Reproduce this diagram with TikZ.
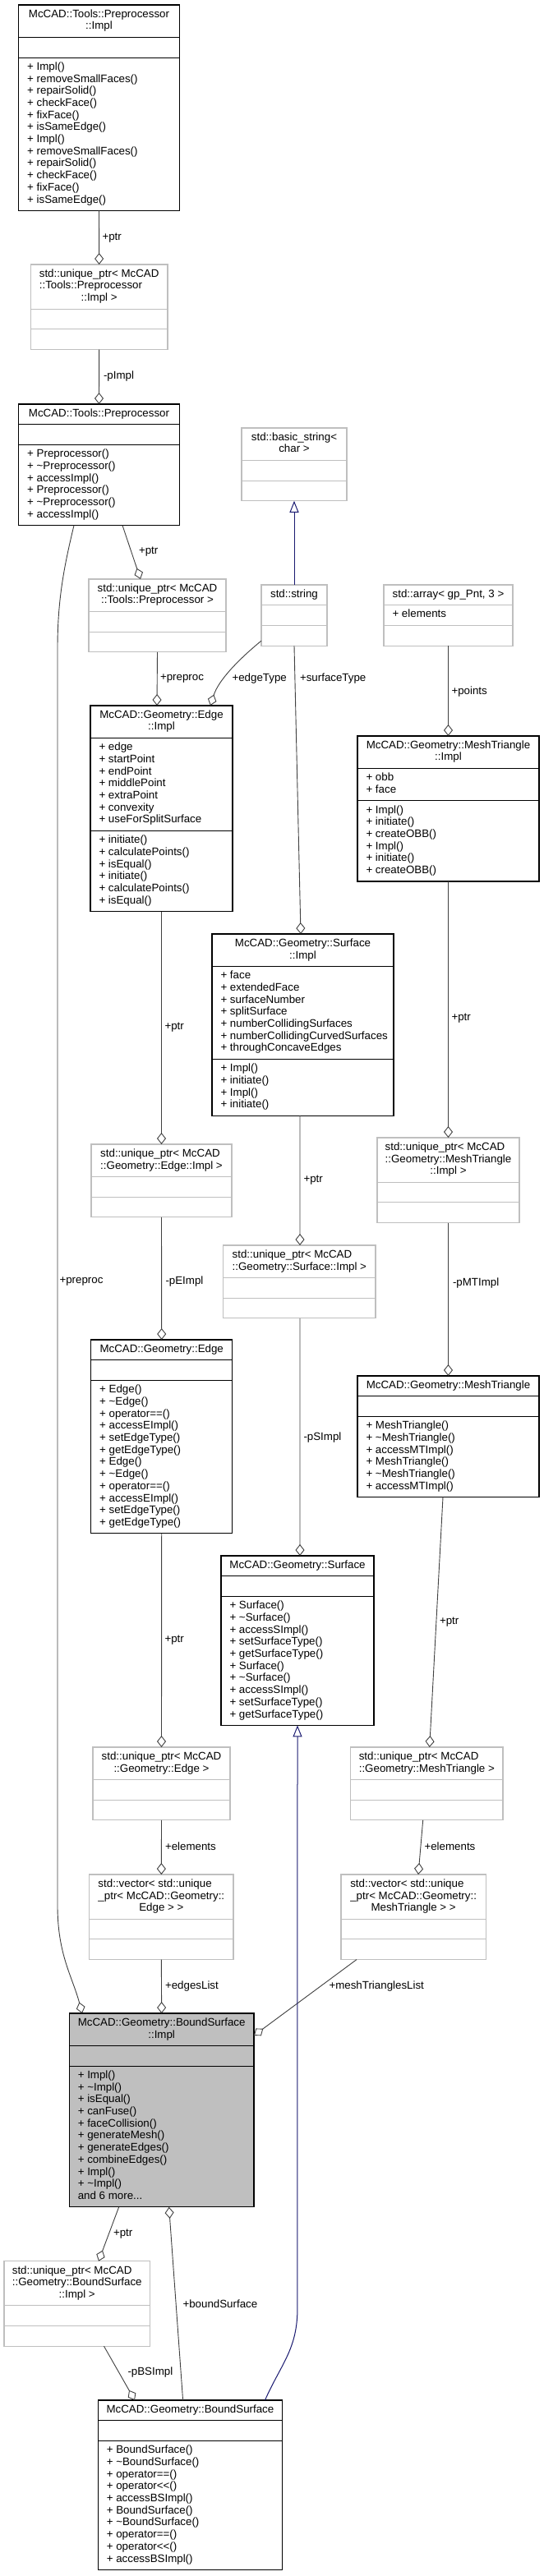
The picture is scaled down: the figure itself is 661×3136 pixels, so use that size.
\documentclass[tikz,border=0pt]{standalone}
\usepackage{fontspec}
\newfontfamily\dfont{Liberation Sans}[Ligatures=TeXOff]
\usetikzlibrary{arrows.meta,calc}
\definecolor{lgray}{HTML}{BFBFBF}
\definecolor{bsfill}{HTML}{BFBFBF}
\definecolor{egray}{HTML}{404040}
\definecolor{midblue}{HTML}{191970}
\newcommand\tabL[1]{\begin{tabular}{@{}l@{}}#1\end{tabular}}
\newcommand\ctrL[1]{\multicolumn{1}{@{}c@{}}{#1}}
\def\lh{14.7}
\newcommand\umlbox[8]{%
  \pgfmathsetmacro\bxT{#5*\lh+10}%
  \pgfmathsetmacro\bxA{max(#6,1)*\lh+10}%
  \pgfmathsetmacro\bxM{max(#7,1)*\lh+10}%
  \pgfmathsetmacro\bxH{\bxT+\bxA+\bxM}%
  \node[#8, minimum width=#4pt, minimum height=\bxH pt, anchor=north west] (#1) at (#2,#3) {};%
  \draw[#8 sep] ($(#1.north west)+(0,\bxT)$) -- ($(#1.north east)+(0,\bxT)$);%
  \draw[#8 sep] ($(#1.north west)+(0,\bxT+\bxA)$) -- ($(#1.north east)+(0,\bxT+\bxA)$);%
  \coordinate (#1-t) at ($(#1.north)+(0,\bxT/2)$);%
  \coordinate (#1-a) at ($(#1.north west)+(10.5,\bxT+\bxA/2)$);%
  \coordinate (#1-m) at ($(#1.north west)+(10.5,\bxT+\bxA+\bxM/2)$);%
}
\begin{document}
\begin{tikzpicture}[x=1pt,y=-1pt,
  dbox/.style={rectangle, draw=black, line width=1.1pt, fill=white, inner sep=0pt, outer sep=0pt},
  dbox sep/.style={draw=black, line width=1.1pt},
  lbox/.style={rectangle, draw=lgray, line width=1.1pt, fill=white, inner sep=0pt, outer sep=0pt},
  lbox sep/.style={draw=lgray, line width=1.1pt},
  gbox/.style={rectangle, draw=black, line width=1.1pt, fill=bsfill, inner sep=0pt, outer sep=0pt},
  gbox sep/.style={draw=black, line width=1.1pt},
  txt/.style={inner sep=0pt, outer sep=0pt, text=black, font=\dfont\fontsize{13.33}{14.7}\selectfont},
  lbl/.style={txt, anchor=west},
  usage/.style={draw=egray, line width=0.9pt, -{Diamond[open, length=14pt, width=11pt, line width=0.9pt]}},
  inh/.style={draw=midblue, line width=1pt, -{Triangle[open, length=14pt, width=11pt, line width=1pt]}}
]
\fill[white] (0,0) rectangle (661,3136);
\useasboundingbox (0,0) rectangle (661,3136);

% ---------------- boxes ----------------
\umlbox{PImpl}{22.7}{6}{195.6}{2}{0}{12}{dbox}
\node[txt] (PImpl-T) at (PImpl-t) {\tabL{McCAD::Tools::Preprocessor\\\ctrL{::Impl}}};
\node[txt,anchor=west] (PImpl-M) at (PImpl-m) {\tabL{+ Impl()\\+ removeSmallFaces()\\+ repairSolid()\\+ checkFace()\\+ fixFace()\\+ isSameEdge()\\+ Impl()\\+ removeSmallFaces()\\+ repairSolid()\\+ checkFace()\\+ fixFace()\\+ isSameEdge()}};

\umlbox{uPImpl}{37.3}{322}{166.7}{3}{0}{0}{lbox}
\node[txt] (uPImpl-T) at (uPImpl-t) {\tabL{std::unique\_ptr< McCAD\\::Tools::Preprocessor\\\ctrL{::Impl >}}};

\umlbox{Prep}{22.7}{492}{195.6}{1}{0}{6}{dbox}
\node[txt] (Prep-T) at (Prep-t) {\tabL{McCAD::Tools::Preprocessor}};
\node[txt,anchor=west] (Prep-M) at (Prep-m) {\tabL{+ Preprocessor()\\+ \textasciitilde Preprocessor()\\+ accessImpl()\\+ Preprocessor()\\+ \textasciitilde Preprocessor()\\+ accessImpl()}};

\umlbox{bstr}{294}{521}{128}{2}{0}{0}{lbox}
\node[txt] (bstr-T) at (bstr-t) {\tabL{std::basic\_string<\\\ctrL{char >}}};

\umlbox{uPrep}{108}{705}{167}{2}{0}{0}{lbox}
\node[txt] (uPrep-T) at (uPrep-t) {\tabL{std::unique\_ptr< McCAD\\\ctrL{::Tools::Preprocessor >}}};

\umlbox{str}{318}{712}{80}{1}{0}{0}{lbox}
\node[txt] (str-T) at (str-t) {\tabL{std::string}};

\umlbox{arr}{467}{712}{157}{1}{1}{0}{lbox}
\node[txt] (arr-T) at (arr-t) {\tabL{std::array< gp\_Pnt, 3 >}};
\node[txt,anchor=west] (arr-A) at (arr-a) {\tabL{+ elements}};

\umlbox{EImpl}{110}{859}{173}{2}{7}{6}{dbox}
\node[txt] (EImpl-T) at (EImpl-t) {\tabL{McCAD::Geometry::Edge\\\ctrL{::Impl}}};
\node[txt,anchor=west] (EImpl-A) at (EImpl-a) {\tabL{+ edge\\+ startPoint\\+ endPoint\\+ middlePoint\\+ extraPoint\\+ convexity\\+ useForSplitSurface}};
\node[txt,anchor=west] (EImpl-M) at (EImpl-m) {\tabL{+ initiate()\\+ calculatePoints()\\+ isEqual()\\+ initiate()\\+ calculatePoints()\\+ isEqual()}};

\umlbox{MTImpl}{435}{896}{221}{2}{2}{6}{dbox}
\node[txt] (MTImpl-T) at (MTImpl-t) {\tabL{McCAD::Geometry::MeshTriangle\\\ctrL{::Impl}}};
\node[txt,anchor=west] (MTImpl-A) at (MTImpl-a) {\tabL{+ obb\\+ face}};
\node[txt,anchor=west] (MTImpl-M) at (MTImpl-m) {\tabL{+ Impl()\\+ initiate()\\+ createOBB()\\+ Impl()\\+ initiate()\\+ createOBB()}};

\umlbox{SImpl}{258}{1137}{221}{2}{7}{4}{dbox}
\node[txt] (SImpl-T) at (SImpl-t) {\tabL{McCAD::Geometry::Surface\\\ctrL{::Impl}}};
\node[txt,anchor=west] (SImpl-A) at (SImpl-a) {\tabL{+ face\\+ extendedFace\\+ surfaceNumber\\+ splitSurface\\+ numberCollidingSurfaces\\+ numberCollidingCurvedSurfaces\\+ throughConcaveEdges}};
\node[txt,anchor=west] (SImpl-M) at (SImpl-m) {\tabL{+ Impl()\\+ initiate()\\+ Impl()\\+ initiate()}};

\umlbox{uEImpl}{111}{1393}{171}{2}{0}{0}{lbox}
\node[txt] (uEImpl-T) at (uEImpl-t) {\tabL{std::unique\_ptr< McCAD\\\ctrL{::Geometry::Edge::Impl >}}};

\umlbox{uMTImpl}{459}{1385}{173}{3}{0}{0}{lbox}
\node[txt] (uMTImpl-T) at (uMTImpl-t) {\tabL{std::unique\_ptr< McCAD\\::Geometry::MeshTriangle\\\ctrL{::Impl >}}};

\umlbox{uSImpl}{271.7}{1516}{185.3}{2}{0}{0}{lbox}
\node[txt] (uSImpl-T) at (uSImpl-t) {\tabL{std::unique\_ptr< McCAD\\\ctrL{::Geometry::Surface::Impl >}}};

\umlbox{Edge}{110.7}{1631}{172}{1}{0}{12}{dbox}
\node[txt] (Edge-T) at (Edge-t) {\tabL{McCAD::Geometry::Edge}};
\node[txt,anchor=west] (Edge-M) at (Edge-m) {\tabL{+ Edge()\\+ \textasciitilde Edge()\\+ operator==()\\+ accessEImpl()\\+ setEdgeType()\\+ getEdgeType()\\+ Edge()\\+ \textasciitilde Edge()\\+ operator==()\\+ accessEImpl()\\+ setEdgeType()\\+ getEdgeType()}};

\umlbox{MT}{435}{1675}{221}{1}{0}{6}{dbox}
\node[txt] (MT-T) at (MT-t) {\tabL{McCAD::Geometry::MeshTriangle}};
\node[txt,anchor=west] (MT-M) at (MT-m) {\tabL{+ MeshTriangle()\\+ \textasciitilde MeshTriangle()\\+ accessMTImpl()\\+ MeshTriangle()\\+ \textasciitilde MeshTriangle()\\+ accessMTImpl()}};

\umlbox{Surf}{269}{1894}{186}{1}{0}{10}{dbox}
\node[txt] (Surf-T) at (Surf-t) {\tabL{McCAD::Geometry::Surface}};
\node[txt,anchor=west] (Surf-M) at (Surf-m) {\tabL{+ Surface()\\+ \textasciitilde Surface()\\+ accessSImpl()\\+ setSurfaceType()\\+ getSurfaceType()\\+ Surface()\\+ \textasciitilde Surface()\\+ accessSImpl()\\+ setSurfaceType()\\+ getSurfaceType()}};

\umlbox{uEdge}{113}{2127}{167}{2}{0}{0}{lbox}
\node[txt] (uEdge-T) at (uEdge-t) {\tabL{std::unique\_ptr< McCAD\\\ctrL{::Geometry::Edge >}}};

\umlbox{uMT}{426.7}{2127}{185.3}{2}{0}{0}{lbox}
\node[txt] (uMT-T) at (uMT-t) {\tabL{std::unique\_ptr< McCAD\\\ctrL{::Geometry::MeshTriangle >}}};

\umlbox{vEdge}{108.7}{2282}{175.3}{3}{0}{0}{lbox}
\node[txt] (vEdge-T) at (vEdge-t) {\tabL{std::vector< std::unique\\\_ptr< McCAD::Geometry::\\\ctrL{Edge > >}}};

\umlbox{vMT}{415}{2282}{176.3}{3}{0}{0}{lbox}
\node[txt] (vMT-T) at (vMT-t) {\tabL{std::vector< std::unique\\\_ptr< McCAD::Geometry::\\\ctrL{MeshTriangle > >}}};

\umlbox{BSImpl}{84.3}{2451}{224.7}{2}{0}{11}{gbox}
\node[txt] (BSImpl-T) at (BSImpl-t) {\tabL{McCAD::Geometry::BoundSurface\\\ctrL{::Impl}}};
\node[txt,anchor=west] (BSImpl-M) at (BSImpl-m) {\tabL{+ Impl()\\+ \textasciitilde Impl()\\+ isEqual()\\+ canFuse()\\+ faceCollision()\\+ generateMesh()\\+ generateEdges()\\+ combineEdges()\\+ Impl()\\+ \textasciitilde Impl()\\and 6 more...}};

\umlbox{uBS}{5}{2752.7}{177.5}{3}{0}{0}{lbox}
\node[txt] (uBS-T) at (uBS-t) {\tabL{std::unique\_ptr< McCAD\\::Geometry::BoundSurface\\\ctrL{::Impl >}}};

\umlbox{BS}{119.3}{2922}{224.3}{1}{0}{10}{dbox}
\node[txt] (BS-T) at (BS-t) {\tabL{McCAD::Geometry::BoundSurface}};
\node[txt,anchor=west] (BS-M) at (BS-m) {\tabL{+ BoundSurface()\\+ \textasciitilde BoundSurface()\\+ operator==()\\+ operator<<()\\+ accessBSImpl()\\+ BoundSurface()\\+ \textasciitilde BoundSurface()\\+ operator==()\\+ operator<<()\\+ accessBSImpl()}};

% ---------------- connectors ----------------
\draw[usage] (PImpl.south) -- (uPImpl.north);
\draw[usage] (uPImpl.south) -- (Prep.north);
\draw[usage] ([xshift=28.5pt]Prep.south) -- ([xshift=-20.5pt]uPrep.north);
\draw[usage] ([xshift=-30.5pt]Prep.south) .. controls +(-12,50) and +(0,-60) .. ++(-20,150)
   -- ++(0,1530) .. controls +(0,60) and +(-12,-45) .. ([xshift=-96.65pt]BSImpl.north);
\draw[usage] (uPrep.south) -- ([xshift=-5.5pt]EImpl.north);
\draw[usage] ($(str.south west)+(0,-6)$) .. controls +(-28,23) and +(10,-31) .. ([xshift=59.5pt]EImpl.north);
\draw[usage] (str.south) -- ([xshift=-2.5pt]SImpl.north);
\draw[inh] (str.north) -- (bstr.south);
\draw[usage] (arr.south) -- (MTImpl.north);
\draw[usage] (EImpl.south) -- (uEImpl.north);
\draw[usage] ([xshift=-3.5pt]SImpl.south) -- ([xshift=0.65pt]uSImpl.north);
\draw[usage] (MTImpl.south) -- (uMTImpl.north);
\draw[usage] (uEImpl.south) -- (Edge.north);
\draw[usage] ([xshift=0.65pt]uSImpl.south) -- ([xshift=3pt]Surf.north);
\draw[usage] (uMTImpl.south) -- (MT.north);
\draw[usage] (Edge.south) -- (uEdge.north);
\draw[usage] ([xshift=-6.5pt]MT.south) -- ([xshift=3.35pt]uMT.north);
\draw[usage] (uEdge.south) -- (vEdge.north);
\draw[usage] ([xshift=-4.65pt]uMT.south) -- ([xshift=5.85pt]vMT.north);
\draw[usage] (vEdge.south) -- (BSImpl.north);
\draw[usage] ([xshift=19pt]vMT.south west) -- ($(BSImpl.north east)+(0,27)$);
\draw[usage] ([xshift=-52pt]BSImpl.south) -- ([xshift=26.25pt]uBS.north);
\draw[usage] ([xshift=32.75pt]uBS.south) -- ([xshift=-67.45pt]BS.north);
\draw[usage] ([xshift=-8.85pt]BS.north) -- ([xshift=9pt]BSImpl.south);
\draw[inh] ([xshift=91pt]BS.north) .. controls +(20,-45) and +(0,50) .. ++(39.5,-112) -- (Surf.south);

% ---------------- labels ----------------
\node[lbl] (L1) at (124.5,290) {+ptr};
\node[lbl] (L2) at (126,458) {-pImpl};
\node[lbl] (L3) at (169,672) {+ptr};
\node[lbl] (L4) at (72.5,1560) {+preproc};
\node[lbl] (L5) at (195,826) {+preproc};
\node[lbl] (L6) at (282.5,826) {+edgeType};
\node[lbl] (L7) at (365,826) {+surfaceType};
\node[lbl] (L8) at (549.5,842) {+points};
\node[lbl] (L9) at (200.5,1251) {+ptr};
\node[lbl] (L10) at (369.5,1437) {+ptr};
\node[lbl] (L11) at (549.5,1240) {+ptr};
\node[lbl] (L12) at (201.5,1560) {-pEImpl};
\node[lbl] (L13) at (369.5,1750) {-pSImpl};
\node[lbl] (L14) at (551,1562) {-pMTImpl};
\node[lbl] (L15) at (200.5,1997) {+ptr};
\node[lbl] (L16) at (535,1975) {+ptr};
\node[lbl] (L17) at (201,2248) {+elements};
\node[lbl] (L18) at (516.5,2248) {+elements};
\node[lbl] (L19) at (201,2418) {+edgesList};
\node[lbl] (L20) at (400.5,2418) {+meshTrianglesList};
\node[lbl] (L21) at (138,2720) {+ptr};
\node[lbl] (L22) at (222.5,2805) {+boundSurface};
\node[lbl] (L23) at (155.5,2888) {-pBSImpl};
\end{tikzpicture}
\end{document}
